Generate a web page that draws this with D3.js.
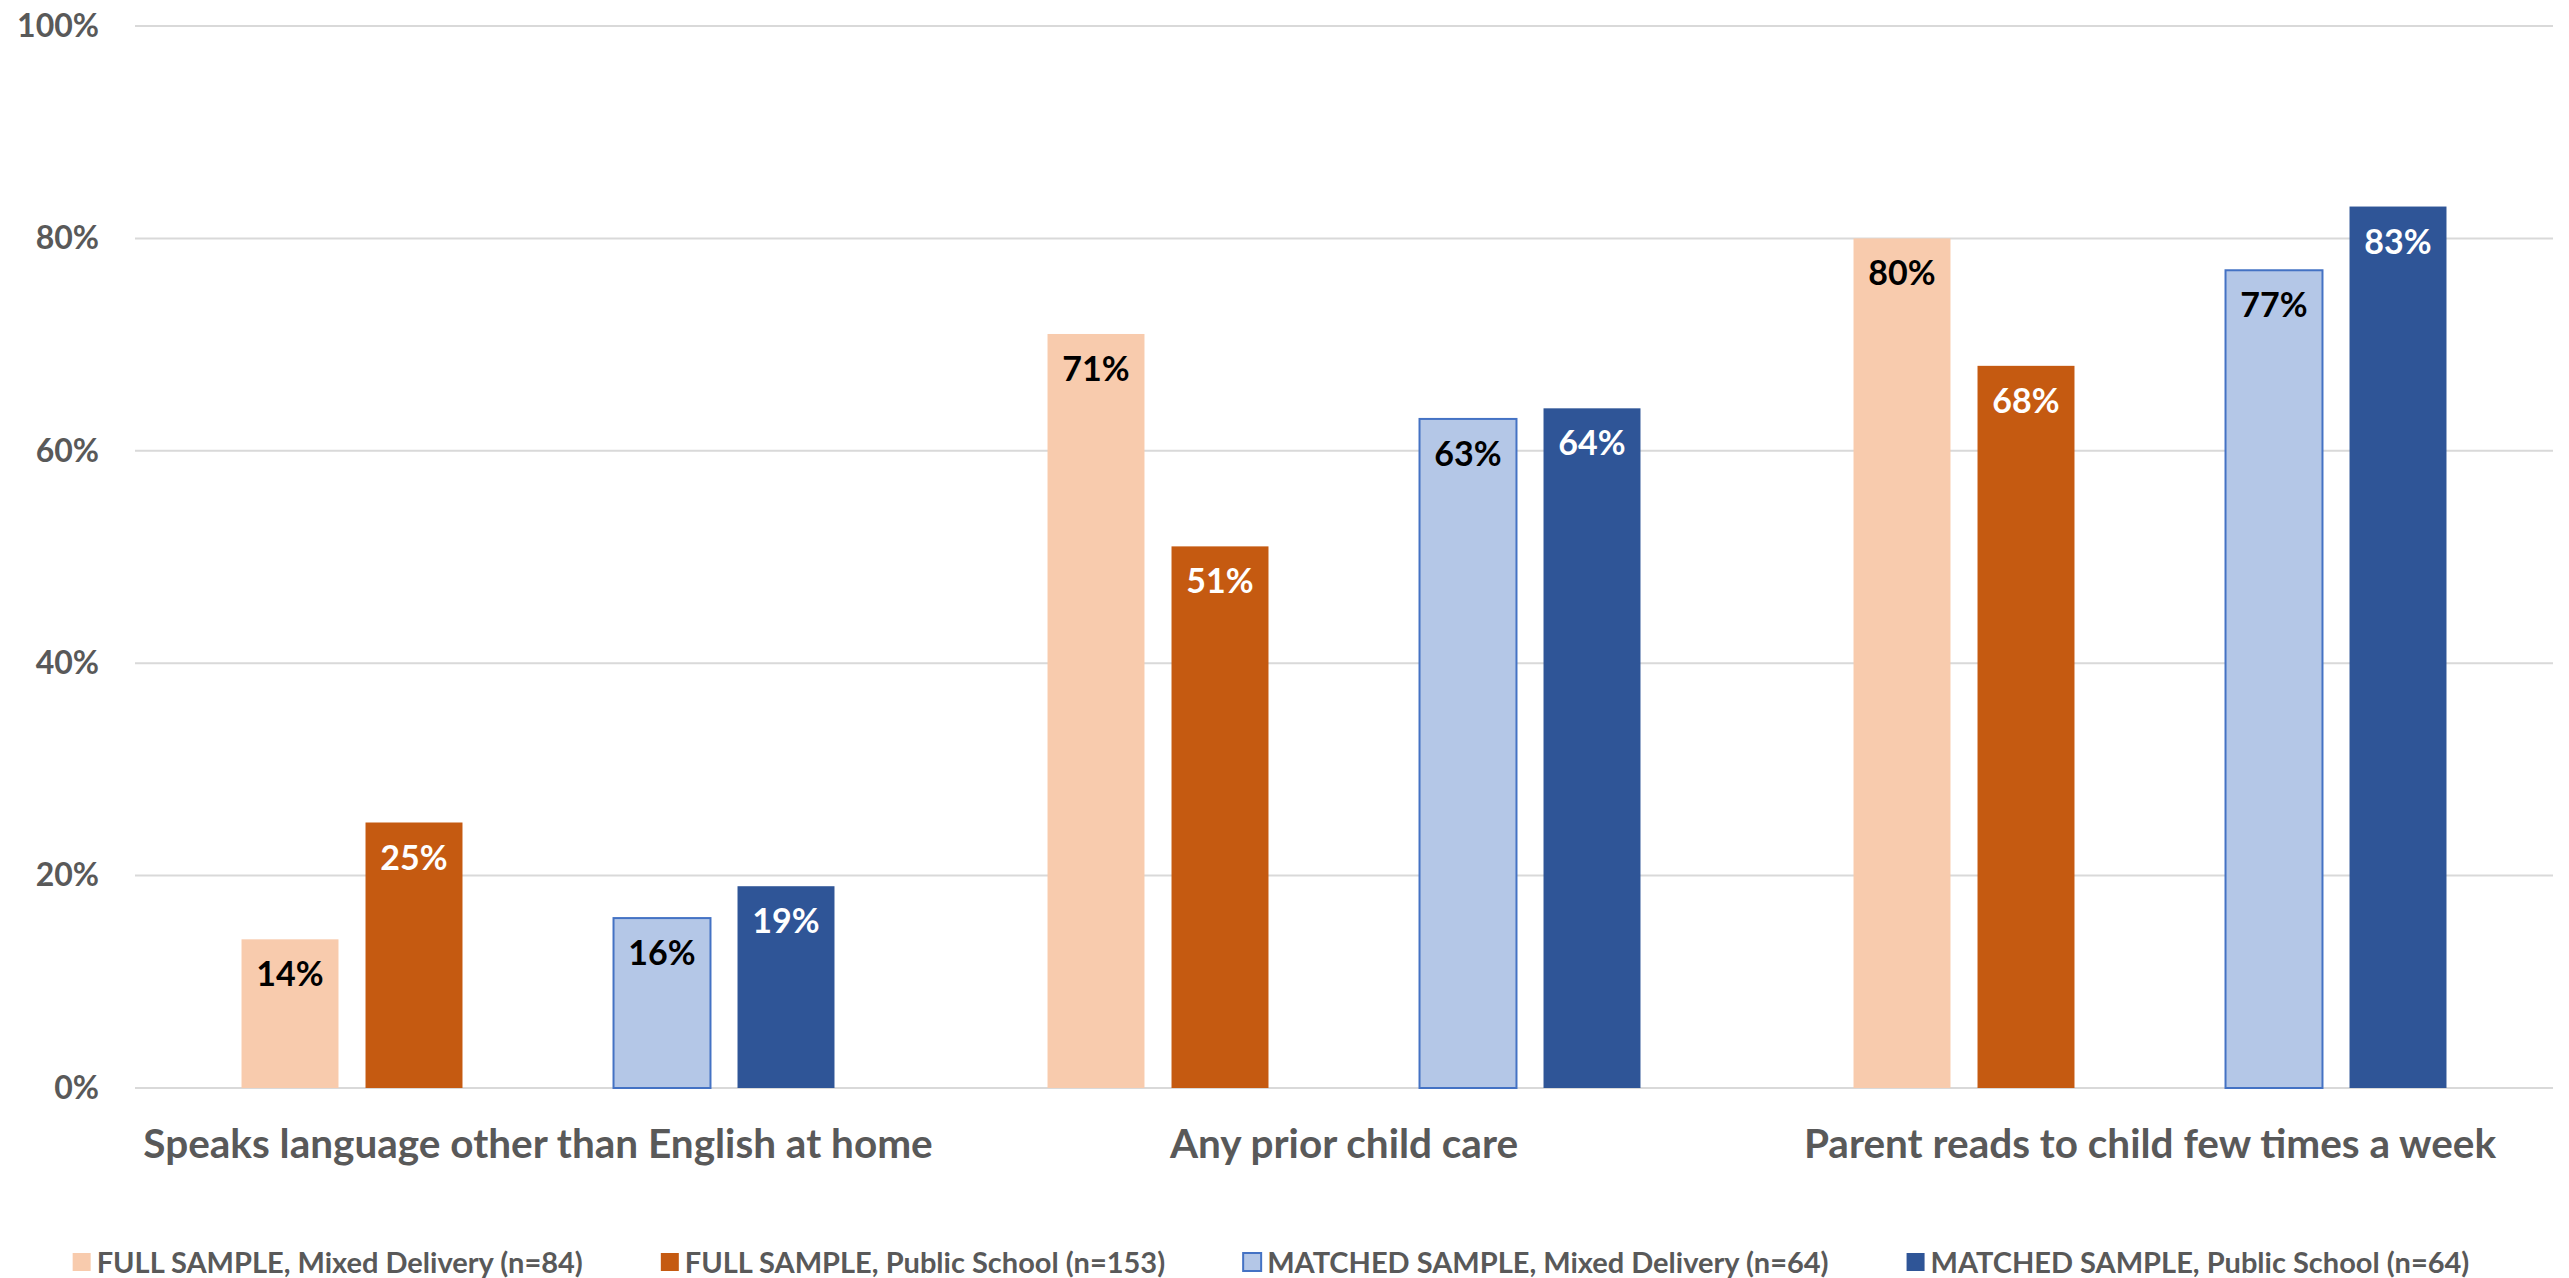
<!DOCTYPE html>
<html>
<head>
<meta charset="utf-8">
<script src="https://cdn.jsdelivr.net/npm/d3@7/dist/d3.min.js"></script>
<style>
  html, body { margin: 0; padding: 0; background: #ffffff; }
  svg { display: block; }
  text { font-family: Lato, "Open Sans", "Liberation Sans", sans-serif; font-weight: 700; }
</style>
</head>
<body>
<svg id="chart" width="2569" height="1278"></svg>
<script>
// ---- data ----
const categories = [
  "Speaks language other than English at home",
  "Any prior child care",
  "Parent reads to child few times a week"
];
const seriesNames = [
  "FULL SAMPLE, Mixed Delivery (n=84)",
  "FULL SAMPLE, Public School (n=153)",
  "MATCHED SAMPLE, Mixed Delivery (n=64)",
  "MATCHED SAMPLE, Public School (n=64)"
];
const fullMixed     = [14, 71, 80];
const fullPublic    = [25, 51, 68];
const matchedMixed  = [16, 63, 77];
const matchedPublic = [19, 64, 83];
const yTicks = [0, 20, 40, 60, 80, 100];

// ---- styles ----
const seriesFill   = ["#F8CBAD", "#C55A11", "#B4C7E7", "#2F5597"];
const seriesStroke = ["none", "none", "#4472C4", "none"];
const labelFill    = ["#000000", "#ffffff", "#000000", "#ffffff"];
const seriesValues = [fullMixed, fullPublic, matchedMixed, matchedPublic];
// slot order inside each category: two FULL bars, an empty slot, two MATCHED bars
const slotKeys = ["s0", "s1", "gap", "s2", "s3"];

const svg = d3.select("#chart");
const margin = { left: 135, right: 16, top: 26, bottom: 190 };
const W = 2569, H = 1278;
const plotRight = W - margin.right;
const plotBottom = H - margin.bottom;

const x0 = d3.scaleBand().domain(categories).range([margin.left, plotRight]).padding(0);
const x1 = d3.scaleBand().domain(slotKeys).range([0, x0.bandwidth()])
  .paddingInner(0.218).paddingOuter(0.859);
const y = d3.scaleLinear().domain([0, 100]).range([plotBottom, margin.top]);

// gridlines
svg.append("g")
  .selectAll("line").data(yTicks).join("line")
  .attr("x1", margin.left).attr("x2", plotRight)
  .attr("y1", d => y(d)).attr("y2", d => y(d))
  .attr("stroke", "#D9D9D9").attr("stroke-width", 2);

// y axis labels
const yAxis = d3.axisLeft(y).tickValues(yTicks).tickFormat(d => d + "%").tickSize(0).tickPadding(0);
const yg = svg.append("g").attr("transform", `translate(${margin.left - 36},0)`).call(yAxis);
yg.select(".domain").remove();
yg.selectAll("text").attr("fill", "#595959").style("font-size", "32px")
  .style("font-family", "Lato, 'Open Sans', sans-serif").style("font-weight", 700);

// bars
const barData = [];
categories.forEach((c, ci) => {
  seriesValues.forEach((vals, si) => {
    barData.push({ cat: c, si, v: vals[ci], slot: "s" + si });
  });
});

const bars = svg.append("g");
bars.selectAll("rect").data(barData).join("rect")
  .attr("x", d => x0(d.cat) + x1(d.slot))
  .attr("width", x1.bandwidth())
  .attr("y", d => y(d.v))
  .attr("height", d => y(0) - y(d.v))
  .attr("fill", d => seriesFill[d.si])
  .attr("stroke", d => seriesStroke[d.si])
  .attr("stroke-width", 2);

// data labels (inside end)
svg.append("g").selectAll("text").data(barData).join("text")
  .attr("x", d => x0(d.cat) + x1(d.slot) + x1.bandwidth() / 2)
  .attr("y", d => y(d.v) + 47)
  .attr("text-anchor", "middle")
  .attr("fill", d => labelFill[d.si])
  .style("font-size", "34px")
  .text(d => d.v + "%");

// category labels
const xAxis = d3.axisBottom(x0).tickSize(0).tickPadding(0);
const xg = svg.append("g").attr("transform", `translate(0,${plotBottom})`).call(xAxis);
xg.select(".domain").remove();
xg.selectAll("text").attr("fill", "#595959").attr("dy", 0).attr("y", 70)
  .style("font-size", "40.5px")
  .style("font-family", "Lato, 'Open Sans', sans-serif").style("font-weight", 700);

// legend
const legend = svg.append("g");
const items = legend.selectAll("g").data(seriesNames).join("g");
items.append("rect")
  .attr("width", 18).attr("height", 18)
  .attr("y", -20)
  .attr("fill", (d, i) => seriesFill[i])
  .attr("stroke", (d, i) => seriesStroke[i])
  .attr("stroke-width", 2);
items.append("text")
  .attr("x", 24).attr("y", 0)
  .attr("fill", "#595959")
  .style("font-size", "29px")
  .text(d => d);
let cx = 0;
const gapBetween = 78;
items.each(function () {
  const g = d3.select(this);
  const w = 24 + g.select("text").node().getComputedTextLength();
  g.attr("transform", `translate(${cx},0)`);
  cx += w + gapBetween;
});
const totalW = cx - gapBetween;
legend.attr("transform", `translate(${1271 - totalW / 2},1273)`);
</script>
</body>
</html>
